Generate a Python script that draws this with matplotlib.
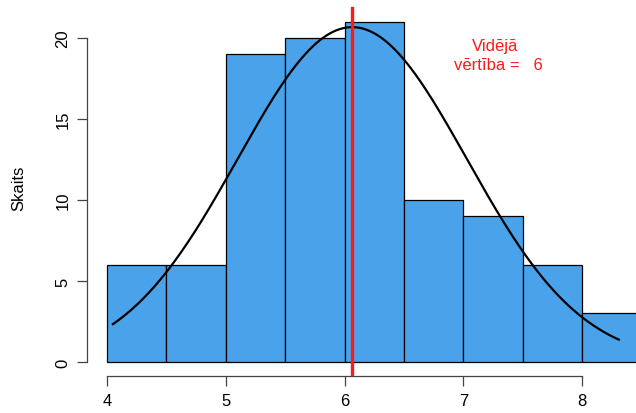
import numpy as np
import matplotlib
matplotlib.use("Agg")
import matplotlib.pyplot as plt

plt.rcParams['font.family'] = ['Liberation Sans', 'DejaVu Sans']

# Data
bin_edges = [4.0, 4.5, 5.0, 5.5, 6.0, 6.5, 7.0, 7.5, 8.0, 8.5]
counts = [6, 6, 19, 20, 21, 10, 9, 6, 3]
mean_val = 6.065
sd_val = 0.965
data_min = 4.05
data_max = 8.31
x_ticks = [4, 5, 6, 7, 8]
y_ticks = [0, 5, 10, 15, 20]

W, H = 636, 414
fig = plt.figure(figsize=(W / 100, H / 100), dpi=100)

# axes in pixel geometry
px_per_x = 118.75
px_per_y = 16.2
left_px, right_px = 87, 636
bottom_px, top_px = 377, 0
ax = fig.add_axes([left_px / W, 1 - bottom_px / H, (right_px - left_px) / W, (bottom_px - top_px) / H])
x0 = 4 - (107 - left_px) / px_per_x
x1 = 4 + (right_px - 107) / px_per_x
y0 = -(bottom_px - 363) / px_per_y
y1 = (363 - top_px) / px_per_y
ax.set_xlim(x0, x1)
ax.set_ylim(y0, y1)

widths = np.diff(bin_edges)
ax.bar(bin_edges[:-1], counts, width=widths, align='edge', color='#4aa3ea',
       edgecolor='black', linewidth=0.9, zorder=2)

binw = widths[0]
n = sum(counts)
xs = np.linspace(data_min, data_max, 300)
ys = n * binw * np.exp(-0.5 * ((xs - mean_val) / sd_val) ** 2) / (sd_val * np.sqrt(2 * np.pi))
ax.plot(xs, ys, color='black', lw=1.6, zorder=3)

ax.axvline(mean_val, ymin=0, ymax=(bottom_px - 9) / bottom_px, color='#ff1a1a', lw=2.4, zorder=4)

ax.text(7.27, 19.55, 'Vidējā', color='#ff1a1a', ha='center', va='center', fontsize=12)
ax.text(7.30, 18.35, 'vērtība =   ' + str(int(round(mean_val))), color='#ff1a1a',
        ha='center', va='center', fontsize=12)

for s in ['top', 'right']:
    ax.spines[s].set_visible(False)
ax.spines['left'].set_bounds(0, 20)
ax.spines['bottom'].set_bounds(4, 8)
for s in ['left', 'bottom']:
    ax.spines[s].set_color('#444444')
    ax.spines[s].set_linewidth(0.9)

ax.set_xticks(x_ticks)
ax.set_yticks(y_ticks)
ax.set_xticklabels([str(v) for v in x_ticks])
ax.set_yticklabels([str(v) for v in y_ticks], rotation=90, va='center')
ax.tick_params(axis='both', direction='out', length=7, width=0.9, color='#444444',
               labelsize=12, labelcolor='black')
ax.tick_params(axis='x', pad=5)
ax.tick_params(axis='y', pad=5)

ax.set_ylabel('Skaits', fontsize=12, labelpad=21)

fig.savefig('out.png', dpi=100)
